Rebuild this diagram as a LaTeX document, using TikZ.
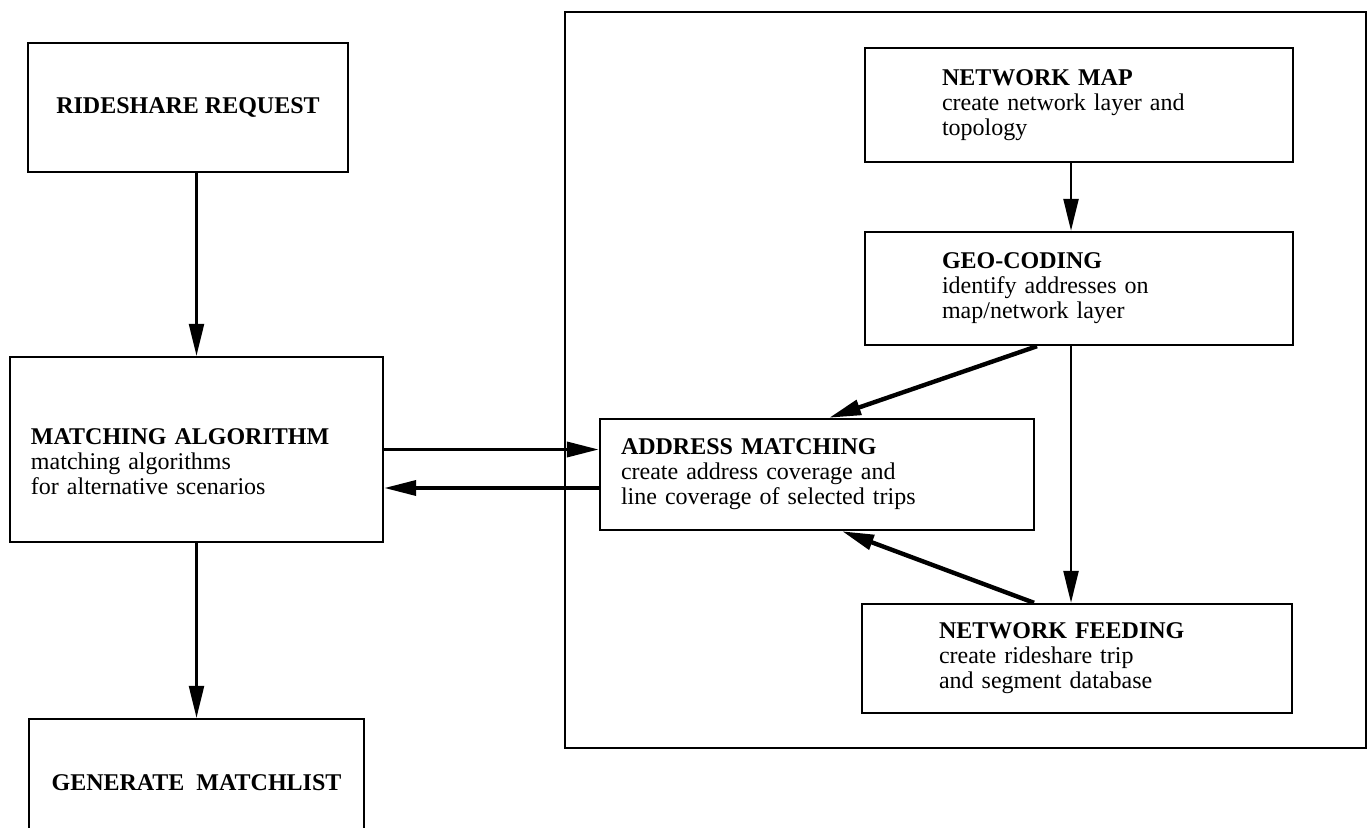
\documentclass[tikz,border=0pt]{standalone}
\usepackage{fontspec}
\setmainfont{Liberation Serif}
\usetikzlibrary{arrows.meta}
\tikzset{
	procbox/.style={draw, line width=1.2pt, align=left, inner ysep=2pt,
		font=\fontsize{12}{12.5}\selectfont},
	flow/.style={-{Triangle[length=16pt,width=7.5pt]}, line width=1.2pt},
	bigflow/.style={flow, line width=2.2pt}
}
\begin{document}
\begin{tikzpicture}[x=0.5pt, y=-0.5pt]
			\useasboundingbox (0,0) rectangle (1369,828);
			\clip (0,0) rectangle (1369,828);
			
			%	Left column
			\node[procbox, align=center, minimum width=160pt, minimum height=64.5pt] (req) at (188,107.5) {\textbf{RIDESHARE REQUEST}};
			\node[procbox, text width=165.5pt, inner xsep=10.5pt, minimum height=92.5pt] (match) at (196.5,449.5) {\rule{0pt}{20pt}\textbf{MATCHING ALGORITHM}\\matching algorithms\\for alternative scenarios};
			\node[procbox, align=center, minimum width=167.5pt, minimum height=64pt] (gen) at (196.5,783) {\textbf{GENERATE\ \ MATCHLIST}};
			
			%	Outer frame
			\draw[line width=1pt] (565,12) rectangle (1366,748);
			
			%	Right column
			\node[procbox, text width=137pt, inner xsep=38.5pt, minimum height=57pt] (map) at (1079,105) {\textbf{NETWORK MAP}\\create network layer and\\topology};
			\node[procbox, text width=137pt, inner xsep=38.5pt, minimum height=56.5pt] (geo) at (1079,288.5) {\textbf{GEO-CODING}\\identify addresses on\\map/network layer};
			\node[procbox, text width=196pt, inner xsep=10.5pt, minimum height=55.5pt] (addr) at (817,474.5) {\textbf{ADDRESS MATCHING}\\create address coverage and\\line coverage of selected trips};
			\node[procbox, text width=138pt, inner xsep=38.5pt, minimum height=54.5pt] (feed) at (1077,658.5) {\textbf{NETWORK FEEDING}\\create rideshare trip\\and segment database};
			
			%	Helper points
			\coordinate (back) at ([yshift=-6.75pt]addr.west);
			\coordinate (gs) at ([xshift=-4pt]geo.south);
			
			%	Vertical arrows
			\draw[flow] (req.south -| match.north) -- (match.north);
			\draw[flow] (match.south) -- (gen.north);
			\draw[flow] ([xshift=-4pt]map.south) -- ([xshift=-4pt]geo.north);
			\draw[flow] (gs) -- (gs |- feed.north);
			
			%	Arrows between the two columns
			\draw[bigflow, line width=1.8pt] (match.east) -- (match.east -| addr.west);
			\draw[bigflow, line width=1.8pt] (back) -- (back -| match.east);
			
			%	Diagonal arrows
			\draw[bigflow] ([xshift=-21pt]geo.south) -- ([xshift=6pt]addr.north);
			\draw[bigflow] ([xshift=-21.5pt]feed.north) -- ([xshift=12.5pt]addr.south);
		\end{tikzpicture}
\end{document}
